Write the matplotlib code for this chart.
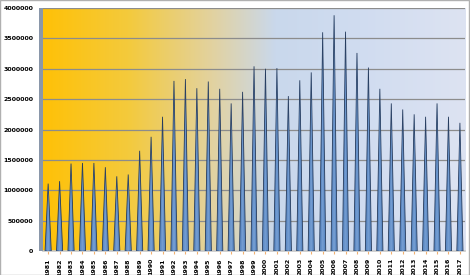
import numpy as np
import matplotlib
matplotlib.use("Agg")
import matplotlib.pyplot as plt
from matplotlib.colors import LinearSegmentedColormap
from matplotlib.patches import Rectangle

years = [str(y) for y in range(1981, 2018)]
values = [1110000, 1150000, 1440000, 1450000, 1450000, 1380000, 1230000, 1260000,
          1650000, 1880000, 2210000, 2800000, 2830000, 2680000, 2790000, 2670000,
          2430000, 2620000, 3040000, 3000000, 3010000, 2550000, 2810000, 2940000,
          3600000, 3880000, 3610000, 3260000, 3020000, 2670000, 2430000, 2330000,
          2250000, 2210000, 2430000, 2210000, 2110000]
yticks = list(range(0, 4000001, 500000))

fig = plt.figure(figsize=(4.7, 2.75), dpi=100)
fig.patch.set_facecolor("white")
ax = fig.add_axes([0.0915, 0.087, 0.898, 0.884])

n = len(years)
ax.set_xlim(-0.45, n - 1 + 0.45)
ax.set_ylim(0, 4000000)

# gradient background
cmap = LinearSegmentedColormap.from_list("bg", [
    (0.0, "#FFC107"), (0.2, "#F4CA3C"), (0.4, "#E2D2A0"),
    (0.55, "#C9D8EC"), (0.75, "#D0DCF0"), (1.0, "#DDE3F2")])
grad = np.linspace(0, 1, 256).reshape(1, -1)
ax.imshow(grad, aspect="auto", cmap=cmap, extent=[0, 1, 0, 1],
          transform=ax.transAxes, zorder=0)

for t in yticks[1:]:
    ax.axhline(t, color="#8C8C8C", lw=0.9, zorder=1)

# cones
hw = 0.27
for i, v in enumerate(values):
    ax.fill([i - hw, i, i + hw], [0, v, 0], facecolor="#5F8CC6",
            edgecolor="#243A5C", lw=0.6, zorder=3)
    ax.fill([i - hw * 0.35, i, i + hw * 0.35], [0, v * 0.97, 0],
            facecolor="#7FA6D8", edgecolor="none", zorder=4, alpha=0.6)

ax.set_yticks(yticks)
ax.set_yticklabels([str(t) for t in yticks], fontsize=4.5, fontweight="bold")
ax.set_xticks(range(n))
ax.set_xticklabels(years, rotation=90, fontsize=4.5, fontweight="bold")
ax.tick_params(axis="y", length=0, pad=7)
ax.tick_params(axis="x", length=2, color="#F0B070", pad=3)
for s in ax.spines.values():
    s.set_visible(False)
ax.spines["bottom"].set_visible(True)
ax.spines["bottom"].set_color("#C8C8C8")
ax.spines["bottom"].set_linewidth(1.2)

# left wall
fig.patches.append(Rectangle((0.083, 0.087), 0.009, 0.884, transform=fig.transFigure,
                             facecolor="#8A97AA", edgecolor="none", zorder=5))
# outer border
fig.patches.append(Rectangle((0.001, 0.0), 0.997, 0.999, transform=fig.transFigure,
                             facecolor="none", edgecolor="#B0B0B0", lw=1.0))

fig.savefig("out.png", dpi=100)
